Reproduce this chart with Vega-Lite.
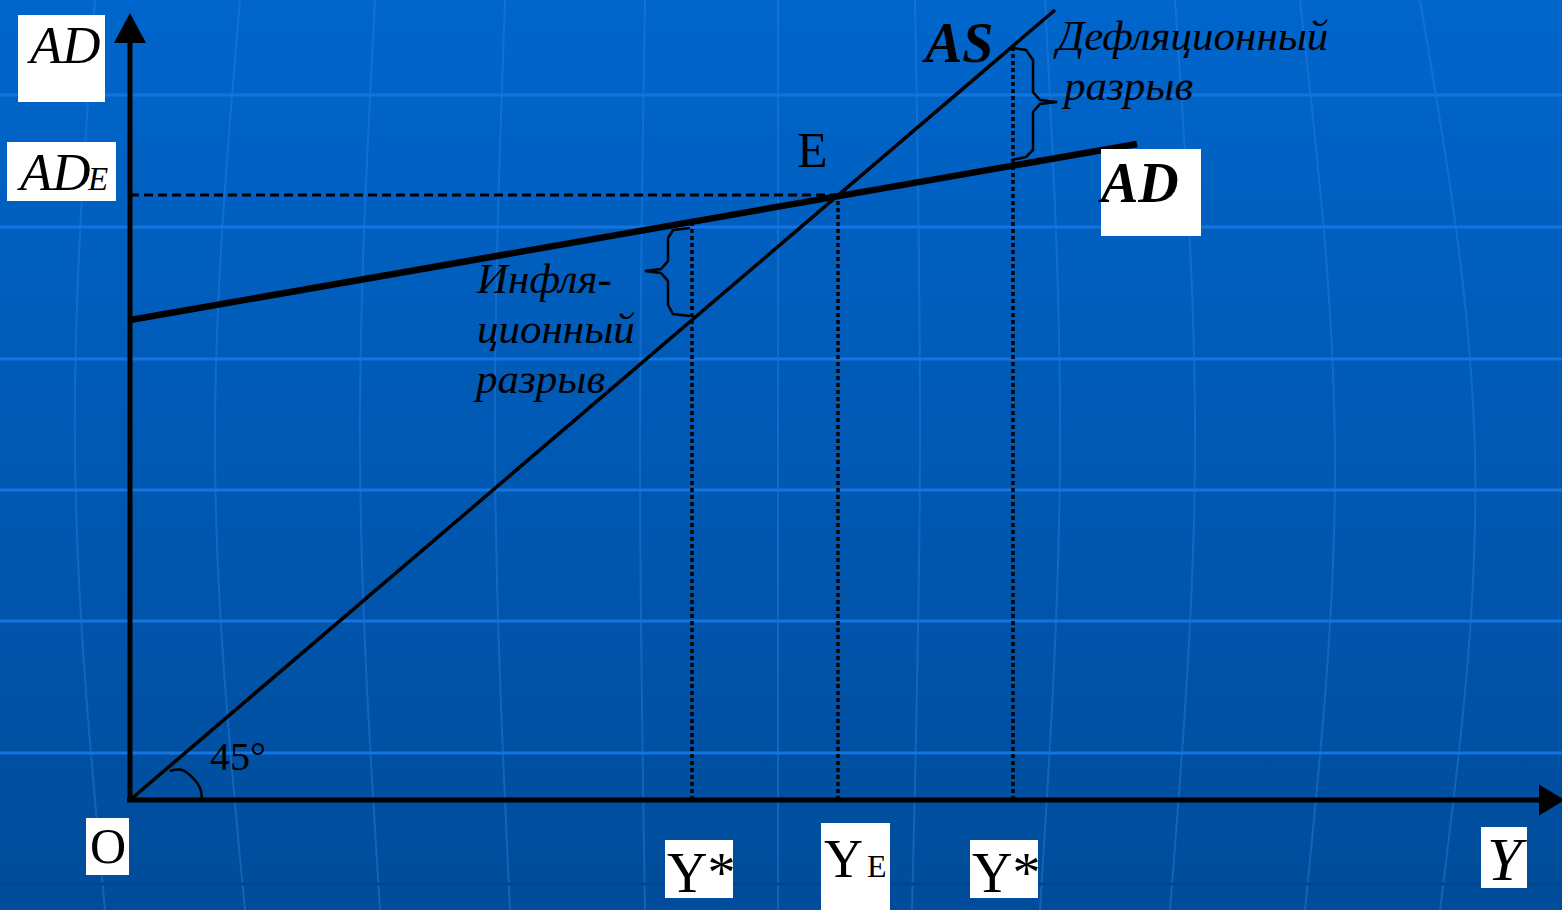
{
  "$schema": "https://vega.github.io/schema/vega-lite/v6.json",
  "width": 1562,
  "height": 910,
  "autosize": "none",
  "padding": 0,
  "background": "#0058b4",
  "view": {"stroke": null},
  "config": {"text": {"font": "Liberation Serif", "color": "#000000", "align": "left", "baseline": "alphabetic"}},
  "datasets": {
    "frame": [{"x": -130, "x2": 1432, "y": -110, "y2": 800}],
    "gridLight": [{"y": 705}, {"y": 573}, {"y": 441}, {"y": 310}, {"y": 179}, {"y": 47}],
    "gridDark": [{"y": -84}],
    "meridians": [
      {"id": 1, "o": 0, "x": -35, "y": 800}, {"id": 1, "o": 1, "x": -55, "y": 345}, {"id": 1, "o": 2, "x": -25, "y": -110},
      {"id": 2, "o": 0, "x": 110, "y": 800}, {"id": 2, "o": 1, "x": 85, "y": 345}, {"id": 2, "o": 2, "x": 115, "y": -110},
      {"id": 3, "o": 0, "x": 245, "y": 800}, {"id": 3, "o": 1, "x": 230, "y": 345}, {"id": 3, "o": 2, "x": 250, "y": -110},
      {"id": 4, "o": 0, "x": 375, "y": 800}, {"id": 4, "o": 1, "x": 365, "y": 345}, {"id": 4, "o": 2, "x": 380, "y": -110},
      {"id": 5, "o": 0, "x": 515, "y": 800}, {"id": 5, "o": 1, "x": 510, "y": 345}, {"id": 5, "o": 2, "x": 515, "y": -110},
      {"id": 6, "o": 0, "x": 648, "y": 800}, {"id": 6, "o": 1, "x": 648, "y": 345}, {"id": 6, "o": 2, "x": 648, "y": -110},
      {"id": 7, "o": 0, "x": 785, "y": 800}, {"id": 7, "o": 1, "x": 790, "y": 345}, {"id": 7, "o": 2, "x": 782, "y": -110},
      {"id": 8, "o": 0, "x": 915, "y": 800}, {"id": 8, "o": 1, "x": 930, "y": 345}, {"id": 8, "o": 2, "x": 910, "y": -110},
      {"id": 9, "o": 0, "x": 1045, "y": 800}, {"id": 9, "o": 1, "x": 1065, "y": 345}, {"id": 9, "o": 2, "x": 1040, "y": -110},
      {"id": 10, "o": 0, "x": 1170, "y": 800}, {"id": 10, "o": 1, "x": 1205, "y": 345}, {"id": 10, "o": 2, "x": 1175, "y": -110},
      {"id": 11, "o": 0, "x": 1290, "y": 800}, {"id": 11, "o": 1, "x": 1345, "y": 345}, {"id": 11, "o": 2, "x": 1310, "y": -110}
    ],
    "axes": [
      {"x": 0, "y": -2, "x2": 0, "y2": 765},
      {"x": -3, "y": 0, "x2": 1415, "y2": 0}
    ],
    "arrowUp": [{"x": 0, "y": 772}],
    "arrowRight": [{"x": 1422, "y": 0}],
    "asCurve": [{"x": 0, "y": 0, "x2": 925, "y2": 790}],
    "adCurve": [{"x": 0, "y": 480, "x2": 1007, "y2": 656}],
    "dashed": [{"x": 0, "y": 605, "x2": 708, "y2": 605}],
    "dotted": [
      {"x": 562, "y": 0, "x2": 562, "y2": 578},
      {"x": 708, "y": 0, "x2": 708, "y2": 605},
      {"x": 883, "y": 0, "x2": 883, "y2": 754}
    ],
    "braces": [
      {"id": "infl", "o": 0, "x": 560, "y": 572}, {"id": "infl", "o": 1, "x": 543, "y": 570}, {"id": "infl", "o": 2, "x": 538, "y": 562},
      {"id": "infl", "o": 3, "x": 538, "y": 539}, {"id": "infl", "o": 4, "x": 531, "y": 531}, {"id": "infl", "o": 5, "x": 515, "y": 529},
      {"id": "infl", "o": 6, "x": 531, "y": 527}, {"id": "infl", "o": 7, "x": 538, "y": 519}, {"id": "infl", "o": 8, "x": 538, "y": 495},
      {"id": "infl", "o": 9, "x": 543, "y": 486}, {"id": "infl", "o": 10, "x": 560, "y": 484},
      {"id": "defl", "o": 0, "x": 882, "y": 752}, {"id": "defl", "o": 1, "x": 896, "y": 750}, {"id": "defl", "o": 2, "x": 903, "y": 740},
      {"id": "defl", "o": 3, "x": 903, "y": 708}, {"id": "defl", "o": 4, "x": 910, "y": 700}, {"id": "defl", "o": 5, "x": 927, "y": 698},
      {"id": "defl", "o": 6, "x": 910, "y": 696}, {"id": "defl", "o": 7, "x": 903, "y": 688}, {"id": "defl", "o": 8, "x": 903, "y": 650},
      {"id": "defl", "o": 9, "x": 896, "y": 643}, {"id": "defl", "o": 10, "x": 882, "y": 640}
    ],
    "angleArc": [
      {"o": 0, "x": 40, "y": 29}, {"o": 1, "x": 52, "y": 30}, {"o": 2, "x": 63, "y": 22},
      {"o": 3, "x": 70, "y": 12}, {"o": 4, "x": 72, "y": 0}
    ],
    "boxes": [
      {"x": -112, "x2": -25, "y": 785, "y2": 698},
      {"x": -123, "x2": -14, "y": 658, "y2": 599},
      {"x": 971, "x2": 1071, "y": 651, "y2": 564},
      {"x": -44, "x2": -1, "y": -18, "y2": -75},
      {"x": 535, "x2": 603, "y": -40, "y2": -98},
      {"x": 691, "x2": 760, "y": -23, "y2": -110},
      {"x": 840, "x2": 908, "y": -40, "y2": -98},
      {"x": 1351, "x2": 1397, "y": -27, "y2": -88}
    ],
    "italicBig": [
      {"x": -100, "y": 737, "t": "AD"},
      {"x": -110, "y": 610, "t": "AD"}
    ],
    "italicSub": [{"x": -42, "y": 610, "t": "E"}],
    "italicNote": [
      {"x": 927, "y": 750, "t": "Дефляционный"},
      {"x": 934, "y": 700, "t": "разрыв"},
      {"x": 347, "y": 507, "t": "Инфля-"},
      {"x": 347, "y": 457, "t": "ционный"},
      {"x": 346, "y": 407, "t": "разрыв"}
    ],
    "italicY": [{"x": 1357, "y": -80, "t": "Y"}],
    "boldItalic": [
      {"x": 795, "y": 738, "t": "AS"},
      {"x": 971, "y": 598, "t": "AD"}
    ],
    "regularE": [{"x": 667, "y": 633, "t": "E"}, {"x": -40, "y": -63, "t": "O"}],
    "regularAngle": [{"x": 80, "y": 30, "t": "45°"}],
    "regularY": [
      {"x": 537, "y": -92, "t": "Y*"},
      {"x": 842, "y": -92, "t": "Y*"}
    ],
    "regularYE": [{"x": 694, "y": -77, "t": "Y"}],
    "regularSub": [{"x": 737, "y": -77, "t": "E"}]
  },
  "encoding": {
    "x": {"field": "x", "type": "quantitative", "scale": {"domain": [-130, 1432], "nice": false, "zero": false}, "axis": null},
    "y": {"field": "y", "type": "quantitative", "scale": {"domain": [-110, 800], "nice": false, "zero": false}, "axis": null}
  },
  "layer": [
    {
      "data": {"name": "frame"},
      "mark": {"type": "rect", "fill": {"gradient": "linear", "x1": 0, "y1": 0, "x2": 0, "y2": 1, "stops": [{"offset": 0, "color": "#0066cc"}, {"offset": 1, "color": "#004c9a"}]}},
      "encoding": {"x2": {"field": "x2"}, "y2": {"field": "y2"}}
    },
    {
      "data": {"name": "meridians"},
      "mark": {"type": "line", "interpolate": "natural", "color": "#2a84ea", "strokeWidth": 2, "opacity": 0.4},
      "encoding": {"detail": {"field": "id", "type": "nominal"}, "order": {"field": "o", "type": "quantitative"}}
    },
    {
      "data": {"name": "gridLight"},
      "mark": {"type": "rule", "color": "#1474e0", "strokeWidth": 3},
      "encoding": {"x": null}
    },
    {
      "data": {"name": "gridDark"},
      "mark": {"type": "rule", "color": "#00458e", "strokeWidth": 3},
      "encoding": {"x": null}
    },
    {
      "data": {"name": "dashed"},
      "mark": {"type": "rule", "color": "#000000", "strokeWidth": 3, "strokeDash": [9, 5]},
      "encoding": {"x2": {"field": "x2"}, "y2": {"field": "y2"}}
    },
    {
      "data": {"name": "dotted"},
      "mark": {"type": "rule", "color": "#000000", "strokeWidth": 3.5, "strokeDash": [4, 3]},
      "encoding": {"x2": {"field": "x2"}, "y2": {"field": "y2"}}
    },
    {
      "data": {"name": "axes"},
      "mark": {"type": "rule", "color": "#000000", "strokeWidth": 5},
      "encoding": {"x2": {"field": "x2"}, "y2": {"field": "y2"}}
    },
    {
      "data": {"name": "arrowUp"},
      "mark": {"type": "point", "filled": true, "color": "#000000", "opacity": 1, "size": 900, "shape": "M0,-1L1.07,1L-1.07,1Z"}
    },
    {
      "data": {"name": "arrowRight"},
      "mark": {"type": "point", "filled": true, "color": "#000000", "opacity": 1, "size": 676, "shape": "M1,0L-1,-1.2L-1,1.2Z"}
    },
    {
      "data": {"name": "asCurve"},
      "mark": {"type": "rule", "color": "#000000", "strokeWidth": 3.5},
      "encoding": {"x2": {"field": "x2"}, "y2": {"field": "y2"}}
    },
    {
      "data": {"name": "adCurve"},
      "mark": {"type": "rule", "color": "#000000", "strokeWidth": 6.5},
      "encoding": {"x2": {"field": "x2"}, "y2": {"field": "y2"}}
    },
    {
      "data": {"name": "braces"},
      "mark": {"type": "line", "interpolate": "linear", "color": "#000000", "strokeWidth": 2.5},
      "encoding": {"detail": {"field": "id", "type": "nominal"}, "order": {"field": "o", "type": "quantitative"}}
    },
    {
      "data": {"name": "angleArc"},
      "mark": {"type": "line", "interpolate": "cardinal", "color": "#000000", "strokeWidth": 2.5},
      "encoding": {"order": {"field": "o", "type": "quantitative"}}
    },
    {
      "data": {"name": "boxes"},
      "mark": {"type": "rect", "fill": "#ffffff"},
      "encoding": {"x2": {"field": "x2"}, "y2": {"field": "y2"}}
    },
    {
      "data": {"name": "italicBig"},
      "mark": {"type": "text", "fontStyle": "italic", "fontSize": 53},
      "encoding": {"text": {"field": "t"}}
    },
    {
      "data": {"name": "italicSub"},
      "mark": {"type": "text", "fontStyle": "italic", "fontSize": 33},
      "encoding": {"text": {"field": "t"}}
    },
    {
      "data": {"name": "italicNote"},
      "mark": {"type": "text", "fontStyle": "italic", "fontSize": 43},
      "encoding": {"text": {"field": "t"}}
    },
    {
      "data": {"name": "italicY"},
      "mark": {"type": "text", "fontStyle": "italic", "fontSize": 62},
      "encoding": {"text": {"field": "t"}}
    },
    {
      "data": {"name": "boldItalic"},
      "mark": {"type": "text", "fontStyle": "italic", "fontWeight": "bold", "fontSize": 56},
      "encoding": {"text": {"field": "t"}}
    },
    {
      "data": {"name": "regularE"},
      "mark": {"type": "text", "fontSize": 50},
      "encoding": {"text": {"field": "t"}}
    },
    {
      "data": {"name": "regularAngle"},
      "mark": {"type": "text", "fontSize": 40},
      "encoding": {"text": {"field": "t"}}
    },
    {
      "data": {"name": "regularY"},
      "mark": {"type": "text", "fontSize": 56},
      "encoding": {"text": {"field": "t"}}
    },
    {
      "data": {"name": "regularYE"},
      "mark": {"type": "text", "fontSize": 54},
      "encoding": {"text": {"field": "t"}}
    },
    {
      "data": {"name": "regularSub"},
      "mark": {"type": "text", "fontSize": 32},
      "encoding": {"text": {"field": "t"}}
    }
  ]
}
